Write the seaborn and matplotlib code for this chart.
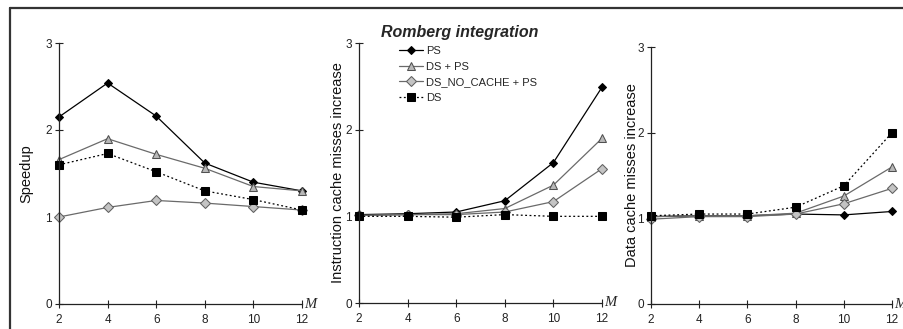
import matplotlib
matplotlib.use("Agg")
import matplotlib.pyplot as plt
from matplotlib.lines import Line2D
import seaborn as sns
import pandas as pd

M = [2, 4, 6, 8, 10, 12]
series_names = ["PS", "DS + PS", "DS_NO_CACHE + PS", "DS"]

speedup_ps = [2.15, 2.54, 2.16, 1.62, 1.40, 1.30]
speedup_dsps = [1.66, 1.90, 1.72, 1.56, 1.35, 1.30]
speedup_dsnc = [1.00, 1.11, 1.19, 1.16, 1.12, 1.08]
speedup_ds = [1.60, 1.73, 1.52, 1.30, 1.20, 1.08]

icache_ps = [1.02, 1.03, 1.05, 1.18, 1.62, 2.49]
icache_dsps = [1.01, 1.02, 1.03, 1.09, 1.36, 1.90]
icache_dsnc = [1.01, 1.02, 1.02, 1.05, 1.17, 1.55]
icache_ds = [1.00, 1.00, 0.99, 1.02, 1.00, 1.00]

dcache_ps = [1.02, 1.03, 1.03, 1.05, 1.04, 1.08]
dcache_dsps = [1.02, 1.03, 1.03, 1.06, 1.26, 1.60]
dcache_dsnc = [0.99, 1.02, 1.02, 1.05, 1.17, 1.35]
dcache_ds = [1.03, 1.05, 1.05, 1.13, 1.38, 2.00]

panel_labels = ["Speedup", "Instruction cache misses increase", "Data cache misses increase"]
panel_data = [
    [speedup_ps, speedup_dsps, speedup_dsnc, speedup_ds],
    [icache_ps, icache_dsps, icache_dsnc, icache_ds],
    [dcache_ps, dcache_dsps, dcache_dsnc, dcache_ds],
]
y_ticks = [0, 1, 2, 3]
x_ticks = [2, 4, 6, 8, 10, 12]
title_text = "Romberg integration"

sns.set_style("white")
plt.rcParams["font.family"] = ["Liberation Sans", "DejaVu Sans"]

styles = {
    "PS": dict(color="black", marker="D", markersize=4.2, markerfacecolor="black",
               markeredgecolor="black", linestyle="-", linewidth=0.9),
    "DS + PS": dict(color="#6a6a6a", marker="^", markersize=6, markerfacecolor="#b8b8b8",
                    markeredgecolor="#505050", linestyle="-", linewidth=0.9),
    "DS_NO_CACHE + PS": dict(color="#6a6a6a", marker="D", markersize=4.6, markerfacecolor="#c4c4c4",
                             markeredgecolor="#606060", linestyle="-", linewidth=0.9),
    "DS": dict(color="black", marker="s", markersize=6.2, markerfacecolor="black",
               markeredgecolor="black", linestyle=(0, (1.5, 2)), linewidth=0.9),
}

fig = plt.figure(figsize=(9.04, 3.29), dpi=100)
W, H = 904, 329
boxes = [(59, 302, 43, 304), (359, 602, 43, 303), (651, 892, 47, 304)]
label_x = [33, 345, 639]

axes = []
for i, (l, r, t, b) in enumerate(boxes):
    ax = fig.add_axes([l / W, 1 - b / H, (r - l) / W, (b - t) / H])
    axes.append(ax)
    df = pd.DataFrame({"M": M * 4,
                       "value": sum(panel_data[i], []),
                       "series": sum([[n] * len(M) for n in series_names], [])})
    for name in series_names:
        sub = df[df["series"] == name]
        sns.lineplot(data=sub, x="M", y="value", ax=ax, label=name, clip_on=False, **styles[name])
    ax.set_xlim(2, 12)
    ax.set_ylim(0, 3)
    ax.set_xticks(x_ticks)
    ax.set_yticks(y_ticks)
    ax.set_xlabel("")
    ax.set_ylabel(panel_labels[i], fontsize=10.5, color="#111111")
    ax.yaxis.set_label_coords((label_x[i] - l) / (r - l), 0.5)
    for s in ["top", "right"]:
        ax.spines[s].set_visible(False)
    for s in ["left", "bottom"]:
        ax.spines[s].set_color("#222222")
        ax.spines[s].set_linewidth(0.9)
    ax.tick_params(axis="both", direction="inout", length=6, width=0.8, labelsize=8.5,
                   colors="#222222", pad=2, left=True, bottom=True)
    ax.tick_params(axis="x", pad=4)
    ax.text(1.008, 0.0, "M", transform=ax.transAxes, fontsize=10.5, fontstyle="italic",
            family=["Liberation Serif", "DejaVu Serif"], ha="left", va="center")
    ax.set_facecolor("none")
    if ax.get_legend() is not None:
        ax.get_legend().remove()

handles, labels = axes[1].get_legend_handles_labels()
leg = fig.legend(handles, labels, loc="upper left", bbox_to_anchor=(399 / W, 1 - 46 / H),
                 frameon=False, fontsize=8, handlelength=2.2, handletextpad=0.2,
                 labelspacing=0.5, borderpad=0, borderaxespad=0)

fig.text(460 / W, 1 - 33 / H, title_text, fontsize=11.5, fontweight="bold",
         fontstyle="italic", ha="center", va="center")

fig.add_artist(Line2D([10 / W, 1.0], [1 - 8 / H, 1 - 8 / H], color="#333333", linewidth=1.6,
                      transform=fig.transFigure))
fig.add_artist(Line2D([10 / W, 10 / W], [1 - 8 / H, 0.0], color="#333333", linewidth=1.6,
                      transform=fig.transFigure))

fig.savefig("out.png", dpi=100)
